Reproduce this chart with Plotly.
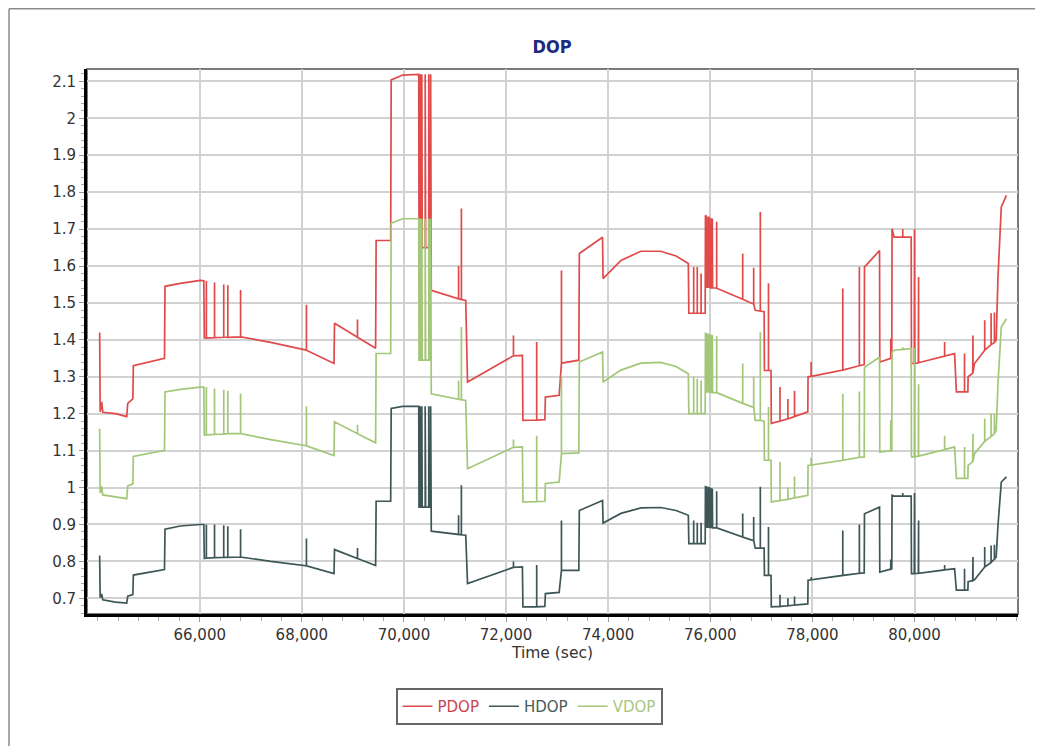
import plotly.graph_objects as go

# ---- data (time in seconds, DOP values) ----
time_sec = [
    # segment A
    64040, 64050, 64080, 64100, 64350, 64570, 64590, 64690, 64700, 65310,
    # segment B
    65320, 65620, 66010, 66080, 66090, 66130, 66130, 66130, 66290, 66290, 66290,
    66470, 66470, 66470, 66550, 66550, 66550, 66800, 66800, 66800, 67390,
    68090, 68090, 68090, 68630,
    # segment C
    68640, 69090, 69090, 69090, 69445, 69455, 69740, 69750, 69975, 70290,
    70295, 70320, 70320, 70335, 70350, 70350, 70358, 70416, 70416, 70425,
    70486, 70486, 70494, 70523, 70523, 70535,
    # segment D
    71070, 71070, 71070, 71125, 71125, 71125, 71210, 71245, 72145, 72145, 72145,
    72320, 72330, 72600, 72600, 72600, 72760, 72770, 73040, 73075, 73085, 73085,
    73085, 73425, 73435, 73890, 73900, 74250, 74640, 75030, 75330, 75570,
    # segment E
    75580, 75675, 75675, 75675, 75745, 75745, 75745, 75820, 75820, 75820, 75900,
    75905, 75925, 75930, 75955, 75960, 75985, 75990, 76015, 76020, 76040, 76045,
    76125, 76125, 76125, 76635, 76635, 76635, 76830, 76850, 76850, 76850, 76880,
    76980, 76980, 76980, 77055, 77060, 77140, 77140, 77140, 77190, 77195,
    # segment F
    77365, 77365, 77365, 77520, 77520, 77520, 77650, 77650, 77650, 77910, 77915,
    77975, 77975, 77975, 78595, 78595, 78595, 78920, 78920, 78920, 79015, 79020,
    79315, 79320, 79535, 79535, 79535, 79555, 79560, 79600, 79770, 79770, 79770,
    79935,
    # segment G
    79940, 79995, 80000, 80005, 80075, 80080, 80080, 80590, 80590, 80590, 80785,
    80820, 80980, 80980, 80980, 81045, 81050, 81140, 81145, 81145, 81175, 81375,
    81375, 81375, 81500, 81500, 81500, 81565, 81565, 81565, 81600, 81635, 81700,
    81800,
]

pdop = [
    1.420, 1.205, 1.232, 1.204, 1.200, 1.192, 1.228, 1.240, 1.330, 1.350,
    1.545, 1.553, 1.561, 1.560, 1.405, 1.405, 1.560, 1.405, 1.406, 1.555, 1.406,
    1.407, 1.550, 1.407, 1.407, 1.548, 1.407, 1.408, 1.535, 1.408, 1.393,
    1.372, 1.495, 1.372, 1.336,
    1.445, 1.407, 1.455, 1.407, 1.377, 1.669, 1.669, 2.104, 2.117, 2.119,
    1.650, 1.650, 2.119, 1.650, 1.650, 2.119, 1.650, 1.650, 2.119, 1.650,
    1.650, 2.119, 1.650, 1.650, 2.119, 1.534,
    1.511, 1.600, 1.511, 1.509, 1.756, 1.509, 1.507, 1.286, 1.357, 1.412, 1.357,
    1.358, 1.182, 1.183, 1.394, 1.183, 1.184, 1.245, 1.250, 1.336, 1.337, 1.588,
    1.337, 1.345, 1.634, 1.678, 1.566, 1.615, 1.640, 1.640, 1.627, 1.607,
    1.472, 1.472, 1.597, 1.472, 1.472, 1.597, 1.472, 1.472, 1.580, 1.472, 1.472,
    1.737, 1.735, 1.543, 1.543, 1.733, 1.731, 1.542, 1.541, 1.728, 1.726, 1.541,
    1.540, 1.720, 1.540, 1.510, 1.634, 1.510, 1.498, 1.498, 1.595, 1.498, 1.480,
    1.478, 1.746, 1.478, 1.476, 1.317, 1.317, 1.553, 1.317, 1.317, 1.174,
    1.180, 1.272, 1.180, 1.186, 1.240, 1.186, 1.192, 1.262, 1.192, 1.205, 1.300,
    1.301, 1.340, 1.301, 1.318, 1.539, 1.318, 1.330, 1.597, 1.330, 1.333, 1.597,
    1.642, 1.340, 1.350, 1.404, 1.350, 1.352, 1.701, 1.678, 1.678, 1.700, 1.678,
    1.678,
    1.336, 1.336, 1.700, 1.336, 1.338, 1.570, 1.338, 1.356, 1.394, 1.356, 1.363,
    1.259, 1.259, 1.363, 1.259, 1.259, 1.300, 1.310, 1.412, 1.310, 1.336, 1.372,
    1.453, 1.372, 1.387, 1.472, 1.387, 1.393, 1.474, 1.393, 1.400, 1.570, 1.760,
    1.791,
]

hdop = [
    0.816, 0.702, 0.712, 0.696, 0.690, 0.687, 0.706, 0.710, 0.763, 0.778,
    0.887, 0.896, 0.900, 0.900, 0.808, 0.809, 0.900, 0.809, 0.810, 0.900, 0.810,
    0.811, 0.898, 0.811, 0.811, 0.895, 0.811, 0.812, 0.887, 0.812, 0.800,
    0.788, 0.862, 0.788, 0.767,
    0.832, 0.808, 0.836, 0.808, 0.789, 0.963, 0.963, 1.214, 1.220, 1.220,
    0.947, 0.947, 1.220, 0.947, 0.947, 1.220, 0.947, 0.947, 1.220, 0.947,
    0.947, 1.220, 0.947, 0.947, 1.220, 0.882,
    0.873, 0.925, 0.873, 0.872, 1.006, 0.872, 0.871, 0.740, 0.784, 0.800, 0.784,
    0.785, 0.677, 0.677, 0.790, 0.677, 0.678, 0.713, 0.716, 0.776, 0.776, 0.911,
    0.776, 0.776, 0.938, 0.965, 0.904, 0.930, 0.945, 0.946, 0.938, 0.925,
    0.848, 0.848, 0.911, 0.848, 0.848, 0.905, 0.848, 0.848, 0.905, 0.848, 0.848,
    1.002, 1.001, 0.893, 0.893, 1.000, 0.999, 0.892, 0.892, 0.996, 0.995, 0.891,
    0.891, 0.990, 0.891, 0.866, 0.930, 0.866, 0.857, 0.857, 0.920, 0.857, 0.836,
    0.836, 1.002, 0.836, 0.836, 0.762, 0.762, 0.893, 0.762, 0.762, 0.677,
    0.678, 0.710, 0.678, 0.680, 0.700, 0.680, 0.682, 0.705, 0.682, 0.685, 0.749,
    0.750, 0.757, 0.750, 0.762, 0.884, 0.762, 0.768, 0.900, 0.768, 0.769, 0.929,
    0.947, 0.771, 0.779, 0.805, 0.779, 0.780, 0.979, 0.977, 0.977, 0.985, 0.977,
    0.977,
    0.767, 0.767, 0.985, 0.767, 0.768, 0.911, 0.768, 0.777, 0.790, 0.777, 0.780,
    0.722, 0.722, 0.780, 0.722, 0.722, 0.745, 0.748, 0.812, 0.748, 0.750, 0.785,
    0.839, 0.785, 0.797, 0.843, 0.797, 0.806, 0.845, 0.806, 0.812, 0.898, 1.015,
    1.029,
]

vdop = [
    1.159, 0.985, 1.003, 0.980, 0.975, 0.970, 1.004, 1.010, 1.084, 1.101,
    1.259, 1.266, 1.272, 1.272, 1.142, 1.143, 1.272, 1.143, 1.144, 1.268, 1.144,
    1.145, 1.265, 1.145, 1.146, 1.262, 1.146, 1.146, 1.255, 1.146, 1.130,
    1.113, 1.220, 1.113, 1.087,
    1.178, 1.146, 1.170, 1.146, 1.121, 1.363, 1.363, 1.716, 1.728, 1.728,
    1.345, 1.345, 1.728, 1.345, 1.345, 1.728, 1.345, 1.345, 1.728, 1.345,
    1.345, 1.728, 1.345, 1.345, 1.728, 1.254,
    1.239, 1.290, 1.239, 1.238, 1.435, 1.238, 1.236, 1.051, 1.109, 1.130, 1.109,
    1.110, 0.961, 0.962, 1.140, 0.962, 0.963, 1.011, 1.015, 1.092, 1.092, 1.300,
    1.092, 1.094, 1.340, 1.367, 1.286, 1.318, 1.337, 1.339, 1.328, 1.308,
    1.200, 1.200, 1.300, 1.200, 1.200, 1.295, 1.200, 1.200, 1.290, 1.200, 1.200,
    1.417, 1.416, 1.259, 1.259, 1.415, 1.414, 1.258, 1.258, 1.412, 1.411, 1.257,
    1.257, 1.410, 1.257, 1.228, 1.336, 1.228, 1.218, 1.218, 1.300, 1.218, 1.182,
    1.182, 1.421, 1.182, 1.180, 1.074, 1.074, 1.218, 1.074, 1.074, 0.961,
    0.965, 1.070, 0.965, 0.968, 1.000, 0.968, 0.972, 1.030, 0.972, 0.979, 1.060,
    1.061, 1.080, 1.061, 1.074, 1.254, 1.074, 1.082, 1.260, 1.082, 1.083, 1.326,
    1.353, 1.096, 1.100, 1.182, 1.100, 1.100, 1.367, 1.372, 1.374, 1.380, 1.374,
    1.377,
    1.083, 1.083, 1.378, 1.083, 1.085, 1.280, 1.085, 1.103, 1.140, 1.103, 1.110,
    1.025, 1.025, 1.110, 1.025, 1.025, 1.060, 1.070, 1.146, 1.070, 1.092, 1.125,
    1.187, 1.125, 1.138, 1.200, 1.138, 1.146, 1.200, 1.146, 1.155, 1.282, 1.435,
    1.457,
]

series_names = ["PDOP", "HDOP", "VDOP"]
series_colors = ["#e04a4a", "#3e5656", "#a3c778"]
legend_text_colors = ["#c8454f", "#4a5a5a", "#a8c880"]
x_tick_vals = [66000, 68000, 70000, 72000, 74000, 76000, 78000, 80000]
x_range = [63792, 82027]
y_range = [0.6576, 2.1335]

FONT = "DejaVu Sans"

# the page places the figure 8px from the top-left corner
W, H = 1035, 738
L, R, T, B = 79, 25, 61, 132
PW, PH = W - L - R, H - T - B

fig = go.Figure()
for name, vals, col, tcol in zip(series_names, [pdop, hdop, vdop], series_colors, legend_text_colors):
    fig.add_trace(go.Scatter(
        x=time_sec, y=vals, mode="lines",
        name=f"<span style='color:{tcol}'>{name}</span>",
        line=dict(color=col, width=1.7),
    ))

fig.update_layout(
    width=W, height=H,
    paper_bgcolor="white", plot_bgcolor="white",
    margin=dict(l=L, r=R, t=T, b=B, autoexpand=False),
    title=dict(text="<b>DOP</b>", x=(552 - 8) / W, xanchor="center",
               y=1 - (47 - 8) / H, yanchor="middle",
               font=dict(family="DejaVu Sans Condensed", size=18, color="#1c2a80")),
    font=dict(family=FONT, size=15, color="#333333"),
    showlegend=True,
    legend=dict(orientation="h", x=(529 - 87) / PW, xanchor="center",
                y=(614 - 688) / PH, yanchor="top",
                bordercolor="#666666", borderwidth=2, bgcolor="white",
                font=dict(family=FONT, size=15), itemwidth=30),
    xaxis=dict(
        range=x_range, tickmode="array", tickvals=x_tick_vals, tickformat=",",
        showgrid=True, gridcolor="#d2d2d2", gridwidth=1.5,
        showline=True, linecolor="black", linewidth=3,
        ticks="outside", ticklen=5, tickcolor="#999999",
        minor=dict(tickmode="linear", tick0=0, dtick=400, ticks="outside",
                   ticklen=4, tickcolor="#aaaaaa", showgrid=False),
        zeroline=False,
        title=dict(text="Time (sec)", standoff=1, font=dict(family=FONT, size=15.5, color="#333333")),
        tickfont=dict(family=FONT, size=15, color="#333333"),
    ),
    yaxis=dict(
        range=y_range, tickmode="linear", tick0=0.7, dtick=0.1,
        showgrid=True, gridcolor="#d2d2d2", gridwidth=1.5,
        showline=True, linecolor="black", linewidth=3,
        ticks="outside", ticklen=5, tickcolor="#999999",
        minor=dict(tickmode="linear", tick0=0.7, dtick=0.02, ticks="outside",
                   ticklen=3, tickcolor="#aaaaaa", showgrid=False),
        zeroline=False,
        tickfont=dict(family=FONT, size=15, color="#333333"),
    ),
    shapes=[
        # plot frame (top/right gray)
        dict(type="rect", xref="paper", yref="paper", x0=0, x1=1, y0=0, y1=1,
             line=dict(color="#7a7a7a", width=2), layer="between"),
        # outer image border (top and left)
        dict(type="line", xref="paper", yref="paper", x0=(9 - 87) / PW, x1=(1043 - 87) / PW,
             y0=(614 - 8.8) / PH, y1=(614 - 8.8) / PH, line=dict(color="#8c8c8c", width=1.5)),
        dict(type="line", xref="paper", yref="paper", x0=(9 - 87) / PW, x1=(9 - 87) / PW,
             y0=(614 - 8.8) / PH, y1=(614 - 746) / PH, line=dict(color="#8c8c8c", width=1.5)),
    ],
)

fig.write_html("out.html")
